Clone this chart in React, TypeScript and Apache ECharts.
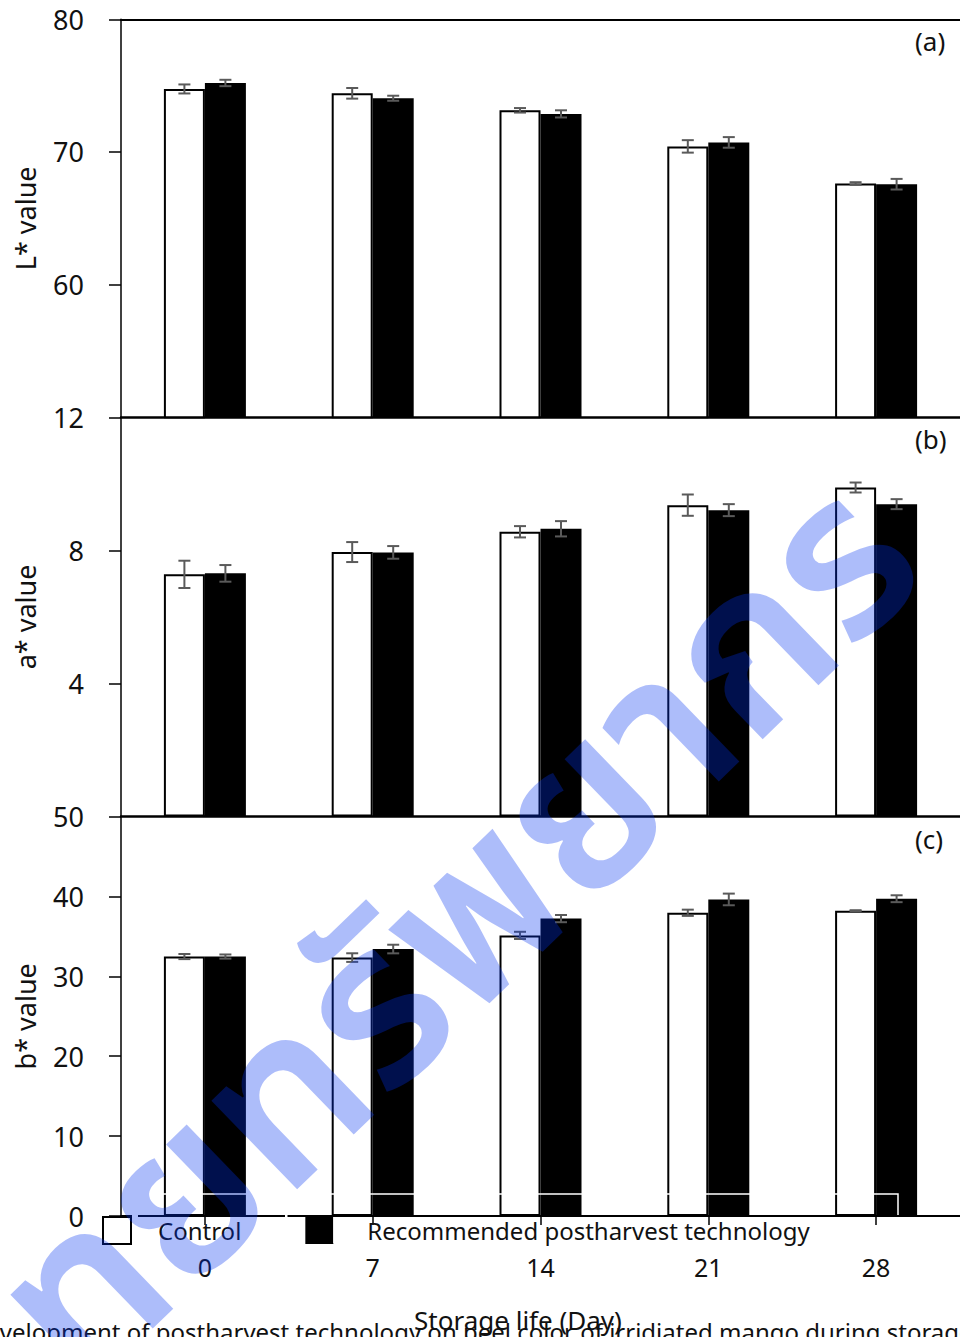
import React, { useEffect, useRef } from "react";
import * as echarts from "echarts";

// ---- data -------------------------------------------------------------
const storageDays = ["0", "7", "14", "21", "28"];
const seriesNames = ["Control", "Recommended postharvest technology"];

// (a) L* value
const lControl = [74.75, 74.42, 73.14, 70.42, 67.62];
const lControlErr = [0.34, 0.4, 0.17, 0.47, 0.1];
const lRecommended = [75.2, 74.05, 72.87, 70.72, 67.57];
const lRecommendedErr = [0.24, 0.19, 0.27, 0.4, 0.4];

// (b) a* value
const aControl = [7.28, 7.95, 8.56, 9.36, 9.89];
const aControlErr = [0.41, 0.3, 0.17, 0.32, 0.15];
const aRecommended = [7.31, 7.94, 8.65, 9.21, 9.39];
const aRecommendedErr = [0.25, 0.19, 0.23, 0.18, 0.15];

// (c) b* value
const bControl = [32.48, 32.35, 35.13, 37.96, 38.22];
const bControlErr = [0.32, 0.54, 0.45, 0.39, 0.06];
const bRecommended = [32.48, 33.42, 37.23, 39.63, 39.72];
const bRecommendedErr = [0.26, 0.54, 0.45, 0.73, 0.43];

const panelTitles = ["L* value", "a* value", "b* value"];
const panelTags = ["(a)", "(b)", "(c)"];
const yMin = [50, 0, 0];
const yMax = [80, 12, 50];
const yStep = [10, 4, 10];

const xTitle = "Storage life (Day)";
const captionText =
  "development of postharvest technology on peel color of irridiated mango during storage";
const watermarkText = "ศูนย์วิทยทรัพยากร";

// ---- layout -----------------------------------------------------------
const W = 960;
const H = 1337;
const FONT = '"Noto Sans", "Open Sans", sans-serif';
const INK = "#111111";
const GRID_LEFT = 121;
const GRID_WIDTH = 839;
const panelTop = [19.3, 417.3, 816.6];
const panelBottom = [417.3, 816.6, 1216];
const BAR_W = 41;

const values = [
  [lControl, lRecommended],
  [aControl, aRecommended],
  [bControl, bRecommended],
];
const errors = [
  [lControlErr, lRecommendedErr],
  [aControlErr, aRecommendedErr],
  [bControlErr, bRecommendedErr],
];

function buildOption(): echarts.EChartsOption {
  const grid = panelTop.map((t, i) => ({
    left: GRID_LEFT,
    width: GRID_WIDTH,
    top: t,
    height: panelBottom[i] - t,
  }));

  const xAxis: any[] = [0, 1, 2].map((i) => ({
    type: "category",
    gridIndex: i,
    data: storageDays,
    axisLine: { show: true, lineStyle: { color: "#000", width: i < 2 ? 2.5 : 2 } },
    axisTick: {
      show: i === 2,
      alignWithLabel: true,
      length: 9,
      lineStyle: { color: "#000", width: 1.5 },
    },
    axisLabel: {
      show: i === 2,
      fontSize: 25,
      fontFamily: FONT,
      color: INK,
      margin: 38,
    },
  }));
  // top border of panel (a)
  xAxis.push({
    type: "category",
    gridIndex: 0,
    position: "top",
    data: storageDays,
    axisLine: { show: true, lineStyle: { color: "#000", width: 2 } },
    axisTick: { show: false },
    axisLabel: { show: false },
  });

  const yAxis = [0, 1, 2].map((i) => ({
    type: "value",
    gridIndex: i,
    min: yMin[i],
    max: yMax[i],
    interval: yStep[i],
    name: panelTitles[i],
    nameLocation: "middle",
    nameRotate: 90,
    nameGap: 82,
    nameTextStyle: { fontSize: 27, fontFamily: FONT, color: INK },
    axisLine: { show: true, lineStyle: { color: "#000", width: 1.5 } },
    axisTick: { show: true, length: 12, lineStyle: { color: "#000", width: 1.5 } },
    axisLabel: {
      fontSize: 27,
      fontFamily: FONT,
      color: INK,
      margin: 37,
      showMinLabel: i === 2,
    },
    splitLine: { show: false },
  }));

  const series: any[] = [];
  for (let i = 0; i < 3; i++) {
    for (let s = 0; s < 2; s++) {
      series.push({
        type: "bar",
        name: seriesNames[s],
        xAxisIndex: i,
        yAxisIndex: i,
        data: values[i][s],
        barWidth: BAR_W,
        barGap: "0%",
        itemStyle:
          s === 0
            ? { color: "#ffffff", borderColor: "#000", borderWidth: 2 }
            : { color: "#000000" },
        emphasis: { disabled: true },
        z: 2,
      });
    }
  }
  // error bars, centred on each bar
  for (let i = 0; i < 3; i++) {
    for (let s = 0; s < 2; s++) {
      const side = s === 0 ? -1 : 1;
      series.push({
        type: "custom",
        xAxisIndex: i,
        yAxisIndex: i,
        silent: true,
        z: 4,
        data: values[i][s].map((v, k) => [k, v - errors[i][s][k], v + errors[i][s][k]]),
        renderItem: (_params: any, api: any) => {
          const k = api.value(0);
          const lo = api.coord([k, api.value(1)]);
          const hi = api.coord([k, api.value(2)]);
          const x = lo[0] + (side * BAR_W) / 2;
          const cap = 6;
          const style = { stroke: "#5a5a5a", lineWidth: 2 };
          return {
            type: "group",
            children: [
              { type: "line", shape: { x1: x, y1: hi[1], x2: x, y2: lo[1] }, style },
              { type: "line", shape: { x1: x - cap, y1: hi[1], x2: x + cap, y2: hi[1] }, style },
              { type: "line", shape: { x1: x - cap, y1: lo[1], x2: x + cap, y2: lo[1] }, style },
            ],
          };
        },
      });
    }
  }

  const graphic: any[] = [];
  const tagY = [40.5, 439, 839];
  panelTags.forEach((t, i) => {
    graphic.push({
      type: "text",
      x: 915,
      y: tagY[i],
      z: 10,
      style: {
        text: t,
        font: `26px ${FONT}`,
        fill: INK,
        align: "left",
        verticalAlign: "middle",
      },
    });
  });
  graphic.push({
    type: "text",
    x: 518,
    y: 1320,
    z: 10,
    style: {
      text: xTitle,
      font: `26px ${FONT}`,
      fill: INK,
      align: "center",
      verticalAlign: "middle",
    },
  });
  graphic.push({
    type: "text",
    x: -28,
    y: 1331,
    z: 10,
    style: {
      text: captionText,
      font: `24px ${FONT}`,
      fill: INK,
      align: "left",
      verticalAlign: "middle",
    },
  });
  // white frame remnants running over the lower bars
  graphic.push({
    type: "polyline",
    z: 8,
    shape: { points: [[123, 1194], [898, 1194], [898, 1215]] },
    style: { stroke: "#ffffff", lineWidth: 1.5, fill: "none" },
  });
  graphic.push({
    type: "line",
    z: 8,
    shape: { x1: 132, y1: 1216, x2: 138, y2: 1216 },
    style: { stroke: "#ffffff", lineWidth: 3 },
  });
  graphic.push({
    type: "line",
    z: 8,
    shape: { x1: 285, y1: 1216, x2: 287.5, y2: 1216 },
    style: { stroke: "#ffffff", lineWidth: 3 },
  });
  graphic.push({
    type: "line",
    z: 8,
    shape: { x1: 334, y1: 1217, x2: 334, y2: 1243 },
    style: { stroke: "#ffffff", lineWidth: 1.5 },
  });
  // watermark, anchored at its right end and running down to the left
  graphic.push({
    type: "text",
    x: 885,
    y: 525,
    rotation: (44 * Math.PI) / 180,
    z: 100,
    silent: true,
    style: {
      text: watermarkText,
      font: `600 225px "Noto Sans Thai", "Noto Sans", sans-serif`,
      fill: "rgba(0, 50, 240, 0.32)",
      align: "right",
      verticalAlign: "middle",
    },
  });

  return {
    animation: false,
    backgroundColor: "#ffffff",
    grid,
    xAxis,
    yAxis,
    legend: {
      left: 102,
      top: 1216,
      padding: 0,
      itemWidth: 28,
      itemHeight: 27,
      itemGap: 64,
      icon: "rect",
      selectedMode: false,
      textStyle: { fontSize: 24, fontFamily: FONT, color: INK },
      data: [
        {
          name: seriesNames[0],
          itemStyle: { color: "#ffffff", borderColor: "#000", borderWidth: 2 },
          textStyle: { padding: [4, 0, 0, 22] },
        },
        {
          name: seriesNames[1],
          itemStyle: { color: "#000000" },
          textStyle: { padding: [0, 0, 4, 29] },
        },
      ],
      z: 6,
    } as any,
    series,
    graphic,
  };
}

export default function App() {
  const ref = useRef<HTMLDivElement>(null);
  useEffect(() => {
    if (!ref.current) return;
    const chart = echarts.init(ref.current, undefined, { renderer: "svg" });
    chart.setOption(buildOption());
    return () => chart.dispose();
  }, []);
  return (
    <div style={{ position: "absolute", left: 0, top: 0, width: W, height: H, overflow: "hidden", background: "#fff" }}>
      <div ref={ref} style={{ width: W, height: H }} />
    </div>
  );
}
